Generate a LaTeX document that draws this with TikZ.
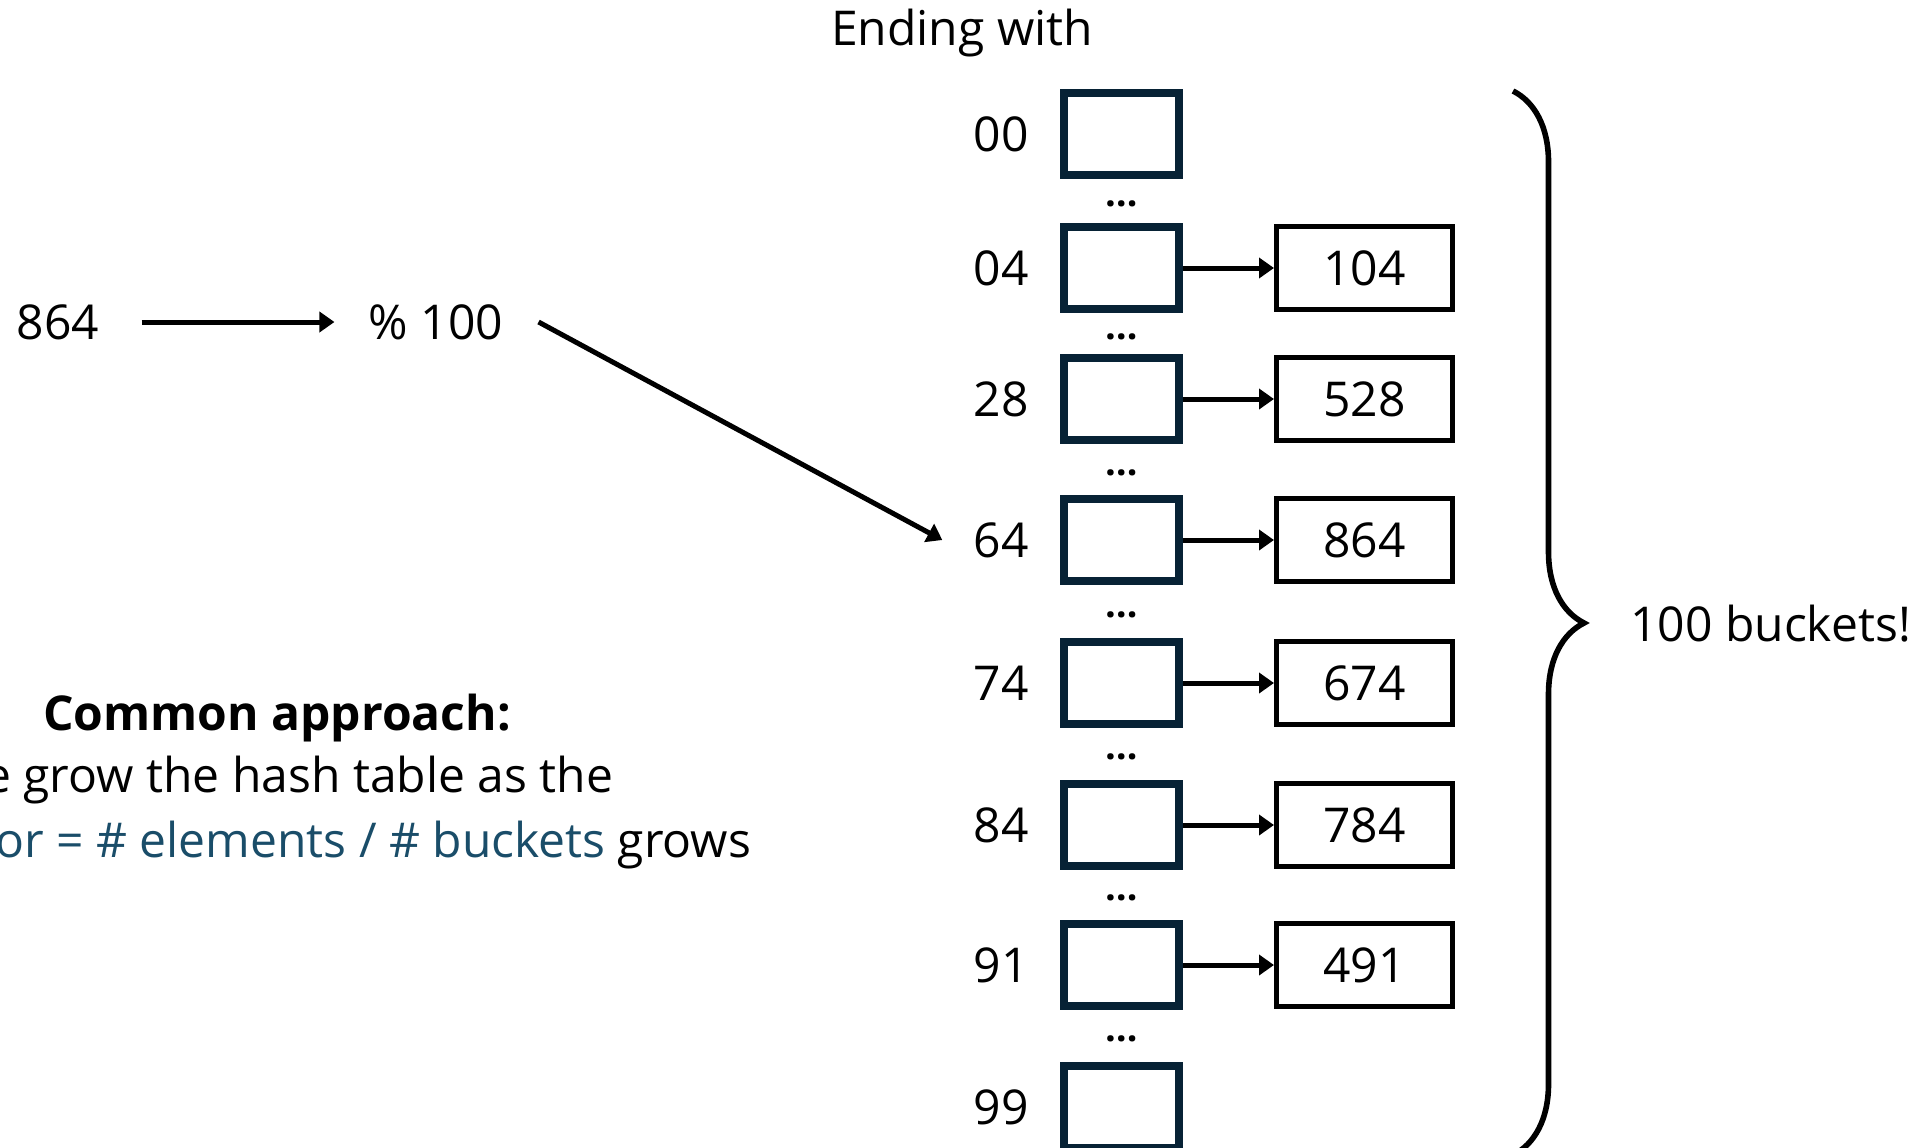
\documentclass[tikz,border=0pt]{standalone}
\usepackage{fontspec}
\setmainfont{Open Sans}
\usetikzlibrary{arrows.meta,positioning,calc,decorations.pathreplacing}
\definecolor{bucketline}{HTML}{072235}
\definecolor{loadblue}{HTML}{1A4D69}

\begin{document}
\begin{tikzpicture}[
  x=0.5pt, y=-0.5pt,
  >={Triangle[length=7.5pt, width=10pt]},
  every node/.style={inner sep=0pt},
  txt/.style={font=\fontsize{24}{30}\selectfont},
  bucket/.style={draw=bucketline, line width=4pt,
                 minimum width=57.5pt, minimum height=41pt},
  chainbox/.style={draw, line width=2.7pt, txt,
                   minimum width=87.75pt, minimum height=41.75pt},
  link/.style={->, line width=2.5pt},
  dots/.style={font=\fontsize{19}{19}\selectfont\bfseries}
]
\useasboundingbox (0,0) rectangle (1926,1147);
\clip (0,0) rectangle (1926,1147);

% key and hash
\node[txt] (key) at (58,322) {864};
\node[txt] (mod) at (436,322) {\% 100};

% remark
\node[txt, anchor=base, font=\fontsize{24}{30}\selectfont\bfseries] (approach) at (277,730) {Common approach:};
\node[txt, anchor=base] (growline) at (277,792) {We grow the hash table as the};
\node[txt, anchor=base] (loadline) at (277,857) {\textcolor{loadblue}{load factor = \# elements / \# buckets} grows};

% buckets
\node[txt, anchor=base] (head) at (962,45) {Ending with};
\node[bucket] (b00) at (1121.5,134) {};
\node[bucket] (b04) at (1121.5,268) {};
\node[bucket] (b28) at (1121.5,399) {};
\node[bucket] (b64) at (1121.5,540) {};
\node[bucket] (b74) at (1121.5,683) {};
\node[bucket] (b84) at (1121.5,825) {};
\node[bucket] (b91) at (1121.5,965) {};
\node[bucket] (b99) at (1121.5,1107) {};

\node[txt, left=15.5pt of b00] (l00) {00};
\node[txt, left=15.5pt of b04] (l04) {04};
\node[txt, left=15.5pt of b28] (l28) {28};
\node[txt, left=15.5pt of b64] (l64) {64};
\node[txt, left=15.5pt of b74] (l74) {74};
\node[txt, left=15.5pt of b84] (l84) {84};
\node[txt, left=15.5pt of b91] (l91) {91};
\node[txt, left=15.5pt of b99] (l99) {99};

\node[dots] (d1) at ($(b00)!0.5!(b04)+(0,3)$) {…};
\node[dots] (d2) at ($(b04)!0.5!(b28)+(0,3)$) {…};
\node[dots] (d3) at ($(b28)!0.5!(b64)+(0,3)$) {…};
\node[dots] (d4) at ($(b64)!0.5!(b74)+(0,3)$) {…};
\node[dots] (d5) at ($(b74)!0.5!(b84)+(0,3)$) {…};
\node[dots] (d6) at ($(b84)!0.5!(b91)+(0,3)$) {…};
\node[dots] (d7) at ($(b91)!0.5!(b99)+(0,3)$) {…};

% chains
\node[chainbox, right=45.5pt of b04] (c04) {104};
\node[chainbox, right=45.5pt of b28] (c28) {528};
\node[chainbox, right=45.5pt of b64] (c64) {864};
\node[chainbox, right=45.5pt of b74] (c74) {674};
\node[chainbox, right=45.5pt of b84] (c84) {784};
\node[chainbox, right=45.5pt of b91] (c91) {491};

\draw[link, shorten <=21pt, shorten >=17pt] (key) -- (mod);
\draw[link] ([xshift=17.5pt]mod.east) -- ([xshift=-15.5pt]l64.west);
\draw[link] (b04) -- (c04);
\draw[link] (b28) -- (c28);
\draw[link] (b64) -- (c64);
\draw[link] (b74) -- (c74);
\draw[link] (b84) -- (c84);
\draw[link] (b91) -- (c91);

% brace
\draw[decorate, decoration={brace, amplitude=35.5pt}, line width=2.8pt]
  (1513,91) coordinate (bracetop) -- (1513,1155) coordinate (bracebot);
\node[txt, anchor=west] (count) at (1630,624) {100 buckets!};

\end{tikzpicture}
\end{document}
